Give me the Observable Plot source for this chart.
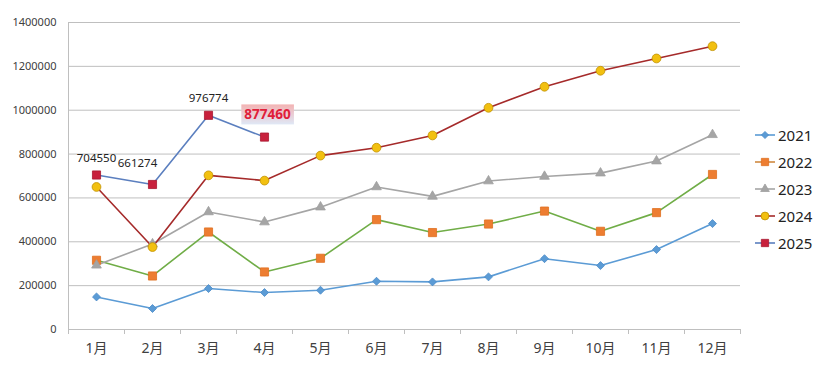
<!DOCTYPE html>
<html><head><meta charset="utf-8">
<script src="https://cdn.jsdelivr.net/npm/d3@7"></script>
<script src="https://cdn.jsdelivr.net/npm/@observablehq/plot@0.6"></script>
<style>
body{margin:0;background:#fff;}
#wrap{position:relative;width:830px;height:368px;font-family:"Noto Sans","Noto Sans CJK SC",sans-serif;}
#legend{position:absolute;left:754px;top:121px;}
.li{display:flex;align-items:center;height:27px;font-size:15px;color:#222;}
.li svg{margin-right:2px;}
</style></head><body><div id="wrap"><div id="legend"></div></div>
<script>
const months = ["1月","2月","3月","4月","5月","6月","7月","8月","9月","10月","11月","12月"];
const years = ["2021","2022","2023","2024","2025"];
const v2021 = [148500, 95700, 186800, 168500, 179000, 220000, 217000, 240000, 323000, 291500, 364500, 483000];
const v2022 = [315700, 244000, 444600, 262400, 324800, 501000, 442000, 481000, 540000, 447800, 533000, 707000];
const v2023 = [293000, 390000, 536000, 490000, 558000, 650000, 607000, 677000, 698000, 713000, 768000, 888000];
const v2024 = [650000, 376000, 703000, 679000, 793000, 829000, 885000, 1011000, 1107000, 1180000, 1236000, 1292000];
const v2025 = [704550, 661274, 976774, 877460];
const yTicks = [0, 200000, 400000, 600000, 800000, 1000000, 1200000, 1400000];

const seriesValues = {"2021": v2021, "2022": v2022, "2023": v2023, "2024": v2024, "2025": v2025};
const styles = {
  "2021": {line: "#5b9bd5", fill: "#5b9bd5", stroke: "#4a8ac8", symbol: "diamond2", r: 3.6},
  "2022": {line: "#70ad47", fill: "#ed7d31", stroke: "#e07020", symbol: "square", r: 4.6},
  "2023": {line: "#a5a5a5", fill: "#a5a5a5", stroke: "#a0a0a0", symbol: "triangle", r: 3.6},
  "2024": {line: "#a52a2a", fill: "#f2c010", stroke: "#c09000", symbol: "circle", r: 4.4},
  "2025": {line: "#5b7fbf", fill: "#c8203c", stroke: "#a81830", symbol: "square", r: 4.6}
};
const legendLine = {"2021": "#5b9bd5", "2022": "#d08a40", "2023": "#a5a5a5", "2024": "#a52a2a", "2025": "#5b7fbf"};

const rows = years.flatMap(y => seriesValues[y].map((v, i) => ({year: y, m: i + 1, v})));
const r25 = rows.filter(d => d.year === "2025");

const marks = [
  Plot.gridY(yTicks, {stroke: "#bfbfbf", strokeOpacity: 1}),
  Plot.ruleX([0.5], {stroke: "#bfbfbf"}),
  Plot.ruleY([0], {stroke: "#bfbfbf"}),
  Plot.axisY({ticks: yTicks, tickSize: 0, tickPadding: 12, tickFormat: d => String(d), fontSize: 11, fill: "#404040", label: null}),
  Plot.axisX({ticks: d3.range(0.5, 13, 1), tickSize: 5, stroke: "#bfbfbf", tickFormat: () => "", label: null}),
  Plot.axisX({ticks: d3.range(1, 13), tickSize: 0, tickPadding: 14, tickFormat: i => months[i - 1], fontSize: 14, fill: "#404040", label: null})
];
for (const y of years) {
  const s = styles[y];
  const data = rows.filter(d => d.year === y);
  marks.push(Plot.line(data, {x: "m", y: "v", stroke: s.line, strokeWidth: 1.6}));
}
for (const y of years) {
  const s = styles[y];
  const data = rows.filter(d => d.year === y);
  marks.push(Plot.dot(data, {x: "m", y: "v", symbol: s.symbol, r: s.r, fill: s.fill, stroke: s.stroke, strokeWidth: 0.8}));
}
const lab = {fontSize: 11.5, fill: "#222", text: d => String(d.v)};
marks.push(Plot.text([r25[0]], {...lab, x: "m", y: "v", dy: -17}));
marks.push(Plot.text([r25[1]], {...lab, x: "m", y: "v", dy: -21, dx: -15}));
marks.push(Plot.text([r25[2]], {...lab, x: "m", y: "v", dy: -17}));
marks.push(Plot.text([r25[3]], {x: "m", y: "v", text: d => String(d.v), dy: -22, dx: 3, fontSize: 13.5, fontWeight: "bold", fill: "#e0203a", className: "hl"}));

const chart = Plot.plot({
  width: 830, height: 368,
  marginLeft: 68, marginRight: 90, marginTop: 22, marginBottom: 39,
  style: {fontFamily: '"Noto Sans","Noto Sans CJK SC",sans-serif', background: "#fff"},
  x: {type: "linear", domain: [0.5, 12.5], label: null},
  y: {domain: [0, 1400000], label: null},
  marks
});
const wrap = document.getElementById("wrap");
wrap.insertBefore(chart, wrap.firstChild);

// highlight behind the red label
const svg = d3.select(chart);
const defs = svg.append("defs");
const g = defs.append("linearGradient").attr("id", "hlg").attr("x1", 0).attr("y1", 0).attr("x2", 0).attr("y2", 1);
g.append("stop").attr("offset", "0%").attr("stop-color", "#f3b3b3");
g.append("stop").attr("offset", "100%").attr("stop-color", "#dfe8f6");
svg.selectAll("g.hl text").each(function() {
  const b = this.getBBox();
  const t = this.getAttribute("transform");
  d3.select(this.parentNode).insert("rect", () => this)
    .attr("x", b.x - 3).attr("y", b.y - 1).attr("width", b.width + 6).attr("height", b.height + 2)
    .attr("transform", t).attr("fill", "url(#hlg)");
});

// legend
const legend = d3.select("#legend");
for (const y of years) {
  const s = styles[y];
  const item = legend.append("div").attr("class", "li");
  const sv = item.append("svg").attr("width", 22).attr("height", 14);
  sv.append("line").attr("x1", 1).attr("x2", 21).attr("y1", 7).attr("y2", 7).attr("stroke", legendLine[y]).attr("stroke-width", 1.6);
  const symMap = {diamond2: d3.symbolDiamond2, square: d3.symbolSquare, triangle: d3.symbolTriangle, circle: d3.symbolCircle};
  sv.append("path").attr("transform", "translate(11,7)")
    .attr("d", d3.symbol(symMap[s.symbol], s.r * s.r * Math.PI * 0.8)())
    .attr("fill", s.fill).attr("stroke", s.stroke).attr("stroke-width", 0.8);
  item.append("span").text(y);
}
</script></body></html>
